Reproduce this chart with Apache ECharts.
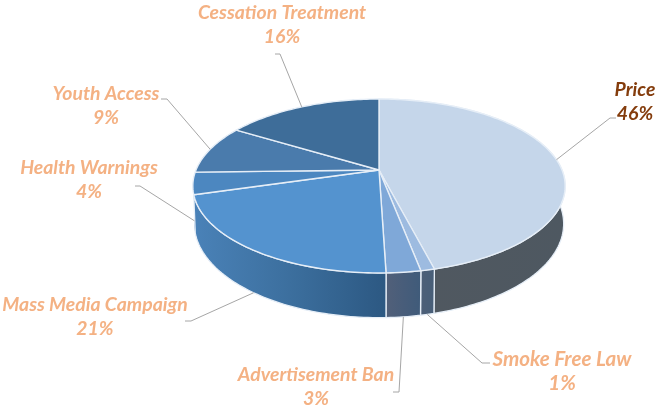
<!DOCTYPE html>
<html>
<head>
<meta charset="utf-8">
<style>html,body{margin:0;padding:0;background:#fff}#c{width:656px;height:410px}</style>
<script src="https://cdn.jsdelivr.net/npm/echarts@6/dist/echarts.min.js"></script>
</head>
<body>
<div id="c"></div>
<script>
// Data (slice shares, clockwise from 12 o'clock)
const categories = ['Price','Smoke Free Law','Advertisement Ban','Mass Media Campaign','Health Warnings','Youth Access','Cessation Treatment'];
const shares = [46.0, 1.0, 2.5, 21.0, 4.1, 9.1, 16.3];
const percentLabels = ['46%','1%','3%','21%','4%','9%','16%'];

// Styling
const topColors = ['#C5D6EA','#9DBBE0','#7FA8D8','#5493CF','#4C87C0','#4A7BAC','#3E6D99'];
const sideStops = [['#62666D','#505860','#4E5861'],['#4E6078','#4A5F78','#475E78'],['#526079','#485D7A','#3F5B7A'],['#4A82B8','#3C6F9E','#2C5882'],['#4A83BA','#4A83BA','#4A83BA'],['#4A83BA','#4A83BA','#4A83BA'],['#4A83BA','#4A83BA','#4A83BA']];
const sideMidStops = [0.25, 0.5, 0.5, 0.5, 0.5, 0.5, 0.5];
const labelColors = ['#843C0C','#F4B183','#F4B183','#F4B183','#F4B183','#F4B183','#F4B183'];
const labelCenters = [[635,90],[562,359],[316,375],[95,305],[89,168],[106,94],[282,13]];
const labelSizes = [19.4, 20.6, 19.4, 19.4, 19.4, 19.4, 19.4];
const leaderBends = [[[610,118],[616,118]],[[482,363],[490,363]],[[399,392],[393,392]],[[191,321],[185,321]],[[140,186],[135,186]],[[167,99],[161,99]],[[280,54],[275,54]]];
const leaderOnBase = [false,true,true,true,true,false,false];

// Perspective projection of the round pie
const CX = 379, CY = 170, A = 183, B = 84, K = 0.184, DROP = 36.5, BASE_A = 181.5;
const total = shares.reduce((a, b) => a + b, 0);
const cum = []; shares.reduce((a, v, i) => (cum[i] = a, a + v), 0);
const ang = p => p / total * 2 * Math.PI;
function rim(t, base) {
  const d = 1 + K * Math.cos(t);
  return [CX + (base ? BASE_A : A) * Math.sin(t) / d,
          CY - B * Math.cos(t) / d + (base ? DROP / d : 0)];
}
function arc(a, b, base) {
  const n = Math.max(2, Math.ceil((b - a) / 0.02)), pts = [];
  for (let i = 0; i <= n; i++) pts.push(rim(a + (b - a) * i / n, base));
  return pts;
}
const idx = categories.map((c, i) => [i, shares[i], c]);

function renderSide(params, api) {
  const i = api.value(0);
  const a = ang(cum[i]), b = ang(cum[i] + shares[i]);
  const pts = arc(a, b, false).concat(arc(a, b, true).reverse());
  return { type: 'polygon', shape: { points: pts }, z2: i === 3 ? 5 : 1, style: {
    fill: { type: 'linear', x: 0, y: 0, x2: 1, y2: 0, colorStops: [
      { offset: 0, color: sideStops[i][0] },
      { offset: sideMidStops[i], color: sideStops[i][1] },
      { offset: 1, color: sideStops[i][2] }] },
    stroke: i > 3 ? null : '#E6EEF7', lineWidth: 1.3, lineJoin: 'round' } };
}
function renderTop(params, api) {
  const i = api.value(0);
  const a = ang(cum[i]), b = ang(cum[i] + shares[i]);
  const pts = [[CX, CY]].concat(arc(a, b, false));
  return { type: 'polygon', shape: { points: pts }, style: {
    fill: topColors[i], stroke: '#E6EEF7', lineWidth: 1.4, lineJoin: 'round' } };
}
function renderLabel(params, api) {
  const i = api.value(0);
  const m = ang(cum[i] + shares[i] / 2);
  const bend = leaderBends[i];
  const line = [rim(m, leaderOnBase[i]), bend[0], bend[1]];
  const c = labelCenters[i];
  const font = 'italic bold ' + labelSizes[i] + 'px Lato';
  return { type: 'group', children: [
    { type: 'polyline', shape: { points: line }, style: { fill: null, stroke: '#A6A6A6', lineWidth: 1 } },
    { type: 'text', style: { text: categories[i], x: c[0], y: c[1], align: 'center', verticalAlign: 'middle',
        fill: labelColors[i], font: font } },
    { type: 'text', style: { text: percentLabels[i], x: c[0], y: c[1] + 24, align: 'center', verticalAlign: 'middle',
        fill: labelColors[i], font: font } }
  ] };
}

const chart = echarts.init(document.getElementById('c'), null, { renderer: 'canvas', width: 656, height: 410 });
chart.setOption({
  animation: false,
  backgroundColor: '#ffffff',
  series: [
    { type: 'custom', name: 'side', coordinateSystem: 'none', renderItem: renderSide, data: idx, silent: true, z: 1 },
    { type: 'custom', name: 'top', coordinateSystem: 'none', renderItem: renderTop, data: idx, silent: true, z: 2 },
    { type: 'custom', name: 'labels', coordinateSystem: 'none', renderItem: renderLabel, data: idx, silent: true, z: 3 }
  ]
});
</script>
</body>
</html>
